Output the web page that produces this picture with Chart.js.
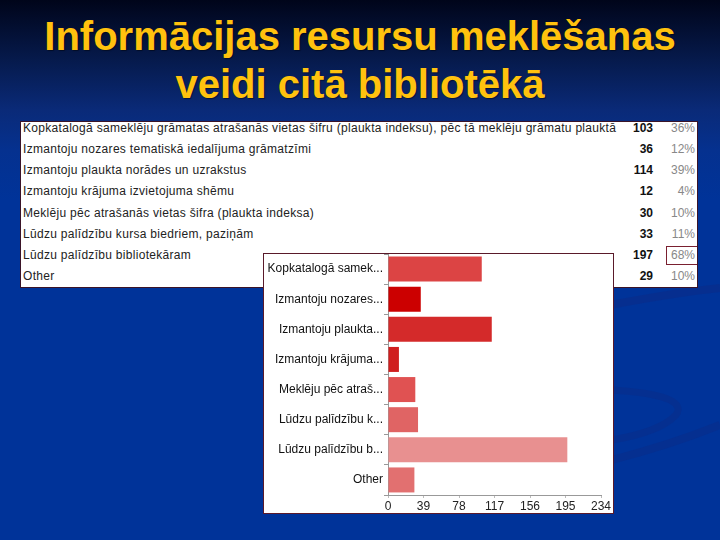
<!DOCTYPE html>
<html>
<head>
<meta charset="utf-8">
<script src="https://cdn.jsdelivr.net/npm/chart.js@4.4.1/dist/chart.umd.min.js"></script>
<style>
  html, body { margin: 0; padding: 0; }
  body {
    width: 720px; height: 540px; overflow: hidden; position: relative;
    background: linear-gradient(to bottom, #00051a 0px, #061a4c 60px, #0a2a78 110px, #05318f 150px, #003399 200px, #003399 540px);
    font-family: "Liberation Sans", Arial, sans-serif;
  }
  #title {
    position: absolute; left: 0; top: 12px; width: 720px;
    text-align: center; color: #ffc20e; font-weight: bold;
    font-size: 40px; line-height: 48px;
    text-shadow: 1px 1px 1px rgba(0,0,0,0.45);
  }
  #table {
    position: absolute; left: 20px; top: 121px; width: 678px; height: 167px;
    box-sizing: border-box; border: 1px solid #3a1428; background: #fff; overflow: hidden;
  }
  .row { position: absolute; left: 0; width: 676px; height: 21px; line-height: 21px; font-size: 12px; }
  .row .lbl { position: absolute; left: 2px; color: #222; white-space: nowrap; letter-spacing: 0.3px; }
  .row .cnt { position: absolute; right: 44px; font-weight: bold; color: #111; }
  .row .pct { position: absolute; right: 2px; color: #888; }
  .row .pct.hl { outline: 1px solid #7a2030; right: 0; padding: 0 2px 0 4px; line-height: 17px; top: 2px; }
  #box {
    position: absolute; left: 263px; top: 253px; width: 351px; height: 261px;
    box-sizing: border-box; border: 1px solid #5a1a2a; background: #fff;
  }
  #box canvas { display: block; }
  #deco { position: absolute; left: 0; top: 0; }
</style>
</head>
<body>
<svg id="deco" width="720" height="540">
  <path d="M610 305 Q680 292 720 288" stroke="#0a2c88" stroke-width="8" fill="none" opacity="0.6"/>
  <path d="M612 390 Q690 395 676 415 Q660 432 612 440" stroke="#0a2c88" stroke-width="7" fill="none" opacity="0.5"/>
  <path d="M612 460 Q670 445 720 425" stroke="#0a2c88" stroke-width="8" fill="none" opacity="0.55"/>
</svg>
<div id="title">Informācijas resursu meklēšanas<br>veidi citā bibliotēkā</div>
<div id="table"></div>
<div id="box"><canvas id="myChart" width="349" height="259"></canvas></div>
<script>
var categories = [
  "Kopkatalogā sameklēju grāmatas atrašanās vietas šifru (plaukta indeksu), pēc tā meklēju grāmatu plauktā",
  "Izmantoju nozares tematiskā iedalījuma grāmatzīmi",
  "Izmantoju plaukta norādes un uzrakstus",
  "Izmantoju krājuma izvietojuma shēmu",
  "Meklēju pēc atrašanās vietas šifra (plaukta indeksa)",
  "Lūdzu palīdzību kursa biedriem, paziņām",
  "Lūdzu palīdzību bibliotekāram",
  "Other"
];
var counts = [103, 36, 114, 12, 30, 33, 197, 29];
var percents = ["36%", "12%", "39%", "4%", "10%", "11%", "68%", "10%"];
var xTicks = [0, 39, 78, 117, 156, 195, 234];
var colors = ['#dc4444', '#cc0000', '#d42a2a', '#d01e1e', '#e05252', '#e06464', '#e89090', '#e27070'];

// table above the chart
var tbl = document.getElementById("table");
for (var i = 0; i < categories.length; i++) {
  var row = document.createElement("div");
  row.className = "row";
  row.style.top = (i * 21.15 - 4) + "px";
  var hl = percents[i] === "68%" ? " hl" : "";
  row.innerHTML = '<span class="lbl"></span><span class="cnt">' + counts[i] +
    '</span><span class="pct' + hl + '">' + percents[i] + '</span>';
  row.querySelector(".lbl").textContent = categories[i];
  tbl.appendChild(row);
}

function shortName(s) {
  return s.length > 17 ? s.substring(0, 17) + "..." : s;
}

new Chart("myChart", {
  type: "bar",
  data: {
    labels: categories.map(shortName),
    datasets: [{
      backgroundColor: colors,
      borderWidth: 0,
      data: counts,
      barPercentage: 0.83,
      categoryPercentage: 1
    }]
  },
  options: {
    indexAxis: 'y',
    responsive: false,
    animation: false,
    layout: { padding: { left: 0, right: 12, top: 0, bottom: 0 } },
    plugins: { legend: { display: false }, tooltip: { enabled: false } },
    scales: {
      x: {
        min: 0, max: 234,
        afterBuildTicks: function (scale) {
          scale.ticks = xTicks.map(function (v) { return { value: v }; });
        },
        afterFit: function (scale) { scale.height = 18; },
        grid: { drawOnChartArea: false, tickLength: 3, color: '#bbb' },
        border: { color: '#999' },
        ticks: { color: '#222', padding: 1, font: { family: 'Liberation Sans', size: 12 }, maxRotation: 0 }
      },
      y: {
        afterFit: function (scale) {
          scale.width = 124;
          scale.paddingTop = 0;
          scale.paddingBottom = 0;
        },
        grid: { drawOnChartArea: false, tickLength: 4, color: '#999' },
        border: { color: '#999' },
        ticks: { color: '#111', padding: 1, font: { family: 'Liberation Sans', size: 12 } }
      }
    }
  }
});
</script>
</body>
</html>
